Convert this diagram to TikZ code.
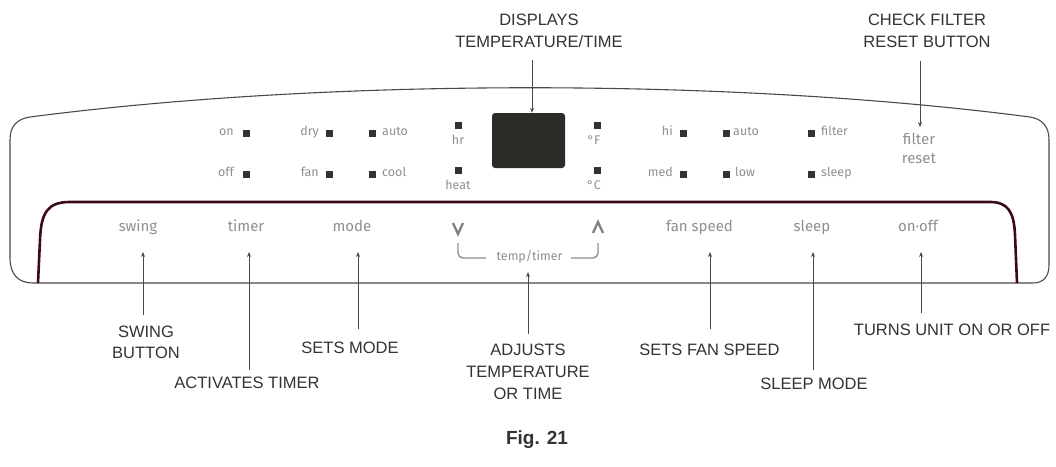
\documentclass[tikz,border=0pt]{standalone}
\usepackage{fontspec}
\setmainfont{Liberation Sans}
\newfontfamily\firafont{Fira Sans}
\usetikzlibrary{arrows.meta}
\definecolor{panelc}{HTML}{4A4A4A}
\definecolor{maroonc}{HTML}{3A0A18}
\definecolor{labc}{HTML}{8F8F8F}
\definecolor{ledc}{HTML}{333333}
\definecolor{callc}{HTML}{333333}
\definecolor{dispc}{HTML}{2B2B28}
\begin{document}
\begin{tikzpicture}[x=1pt,y=-1pt,
  panel/.style={draw=panelc,line width=1.1pt},
  maroonline/.style={draw=maroonc,line width=2.6pt},
  led/.style={fill=ledc,minimum size=7pt,inner sep=0pt},
  ledlab/.style={font=\firafont\fontsize{12.5}{14}\selectfont,text=labc,inner sep=0pt},
  btnlab/.style={font=\firafont\fontsize{15}{17}\selectfont,text=labc,inner sep=0pt},
  smalllab/.style={font=\firafont\fontsize{12.5}{14}\selectfont,text=labc,inner sep=0pt},
  call/.style={font=\fontsize{16.5}{21}\selectfont,text=callc,align=center,inner sep=0pt},
  callarrow/.style={draw=panelc,line width=0.9pt,-{Stealth[length=5pt,width=4pt]}},
  chev/.style={draw=labc!90!black,line width=2.3pt},
  bracket/.style={draw=labc,line width=1.4pt,rounded corners=5pt}
]
\useasboundingbox (0,0) rectangle (1056,466);
\fill[white] (0,0) rectangle (1056,466);

% outer panel
\draw[panel] (33,283) .. controls (18,283) and (10,274) .. (10,258) -- (10,140)
  .. controls (10,126) and (17,119) .. (30,117)
  .. controls (330,78) and (730,78) .. (1030,117)
  .. controls (1042,119) and (1049,126) .. (1049,140) -- (1049,265)
  .. controls (1049,277) and (1043,283) .. (1033,283) -- cycle;

% inner maroon band
\draw[maroonline] (38,283) -- (40,240) .. controls (41,212) and (48,202) .. (70,202)
  -- (990,202) .. controls (1008,202) and (1014,212) .. (1015,235) -- (1017,283);

% display
\node[fill=dispc,rounded corners=3pt,minimum width=73pt,minimum height=55pt,inner sep=0pt] (disp) at (528.5,140.5) {};

% LEDs and labels, left group
\node[led] (ledon) at (246,133) {};
\node[ledlab,anchor=mid east] (lon) at (234,133) {on};
\node[led] (ledoff) at (246,174) {};
\node[ledlab,anchor=mid east] (loff) at (234,174) {off};
\node[led] (leddry) at (329,133) {};
\node[ledlab,anchor=mid east] (ldry) at (319,133) {dry};
\node[led] (ledfan) at (329,174) {};
\node[ledlab,anchor=mid east] (lfan) at (319,174) {fan};
\node[led] (ledauto) at (372,133) {};
\node[ledlab,anchor=mid west] (lauto) at (382,133) {auto};
\node[led] (ledcool) at (372,174) {};
\node[ledlab,anchor=mid west] (lcool) at (382,174) {cool};
\node[led] (ledhr) at (458,125) {};
\node[ledlab,anchor=mid] (lhr) at (458,142) {hr};
\node[led] (ledheat) at (458,170) {};
\node[ledlab,anchor=mid] (lheat) at (458,187) {heat};
% right group
\node[led] (ledf) at (597,125) {};
\node[ledlab,anchor=mid] (lf) at (594,142) {°F};
\node[led] (ledc) at (597,170) {};
\node[ledlab,anchor=mid] (lc) at (594,187) {°C};
\node[led] (ledhi) at (683,133) {};
\node[ledlab,anchor=mid east] (lhi) at (673,133) {hi};
\node[led] (ledmed) at (683,174) {};
\node[ledlab,anchor=mid east] (lmed) at (673,174) {med};
\node[led] (ledfauto) at (726,133) {};
\node[ledlab,anchor=mid west] (lfauto) at (733,133) {auto};
\node[led] (ledlow) at (726,174) {};
\node[ledlab,anchor=mid west] (llow) at (735,174) {low};
\node[led] (ledfilter) at (811,133) {};
\node[ledlab,anchor=mid west] (lfilter) at (821,133) {filter};
\node[led] (ledsleep) at (811,174) {};
\node[ledlab,anchor=mid west] (lsleep) at (821,174) {sleep};
\node[btnlab,anchor=mid] (bfilter) at (919,142) {filter};
\node[btnlab,anchor=mid] (breset) at (919,161) {reset};

% buttons
\node[btnlab,anchor=mid] (bswing) at (138,229) {swing};
\node[btnlab,anchor=mid] (btimer) at (246,229) {timer};
\node[btnlab,anchor=mid] (bmode) at (352,229) {mode};
\node[btnlab,anchor=mid] (bfan) at (699.5,229) {fan speed};
\node[btnlab,anchor=mid] (bsleep) at (812,229) {sleep};
\node[btnlab,anchor=mid] (bonoff) at (918,229) {on·off};

% temp up/down
\coordinate (down) at (458,228);
\coordinate (up) at (598,228);
\draw[chev] ([shift={(-5,-5)}]down) -- ([shift={(0,6)}]down) -- ([shift={(5,-5)}]down);
\draw[chev] ([shift={(-5,5)}]up) -- ([shift={(0,-6)}]up) -- ([shift={(5,5)}]up);
\node[smalllab,anchor=mid] (btemp) at (529.5,258) {temp/timer};
\coordinate (brl) at (486,258);
\coordinate (brr) at (571,258);
\draw[bracket] (458,243) -- (458,258) -- (brl);
\draw[bracket] (brr) -- (598,258) -- (598,243);

% callouts
\node[call] (cdisp) at (539,31) {DISPLAYS\\[1pt]TEMPERATURE/TIME};
\node[call] (cfilter) at (927,31) {CHECK FILTER\\[1pt]RESET BUTTON};
\node[call] (cswing) at (146,342) {SWING\\BUTTON};
\node[call] (ctimer) at (247,383) {ACTIVATES TIMER};
\node[call] (cmode) at (350,348) {SETS MODE};
\node[call] (ctemp) at (528,372) {ADJUSTS\\[1pt]TEMPERATURE\\[1pt]OR TIME};
\node[call] (cfan) at (709.5,350) {SETS FAN SPEED};
\node[call] (csleep) at (814,384) {SLEEP MODE};
\node[call] (conoff) at (952,330) {TURNS UNIT ON OR OFF};
\node[font=\bfseries\fontsize{19}{22}\selectfont,text=callc,inner sep=0pt] (fig) at (537,440) {Fig. 21};

% arrows
\coordinate (dispbase) at (532,60);
\coordinate (filtbase) at (920,61);
\coordinate (filttip) at (920,127);
\draw[callarrow] (dispbase) -- (dispbase |- disp.north);
\draw[callarrow] (filtbase) -- (filttip);

\coordinate (swingbase) at (143,315);  \coordinate (swingtip) at (143,252);
\coordinate (timerbase) at (249,370);  \coordinate (timertip) at (249,252);
\coordinate (modebase) at (358,329);   \coordinate (modetip) at (358,252);
\coordinate (tempbase) at (528,334);   \coordinate (temptip) at (528,272);
\coordinate (fanbase) at (710,329);    \coordinate (fantip) at (710,252);
\coordinate (sleepbase) at (813,370);  \coordinate (sleeptip) at (813,252);
\coordinate (onoffbase) at (921,313);  \coordinate (onofftip) at (921,252);
\draw[callarrow] (swingbase) -- (swingtip);
\draw[callarrow] (timerbase) -- (timertip);
\draw[callarrow] (modebase) -- (modetip);
\draw[callarrow] (tempbase) -- (temptip);
\draw[callarrow] (fanbase) -- (fantip);
\draw[callarrow] (sleepbase) -- (sleeptip);
\draw[callarrow] (onoffbase) -- (onofftip);
\end{tikzpicture}
\end{document}
